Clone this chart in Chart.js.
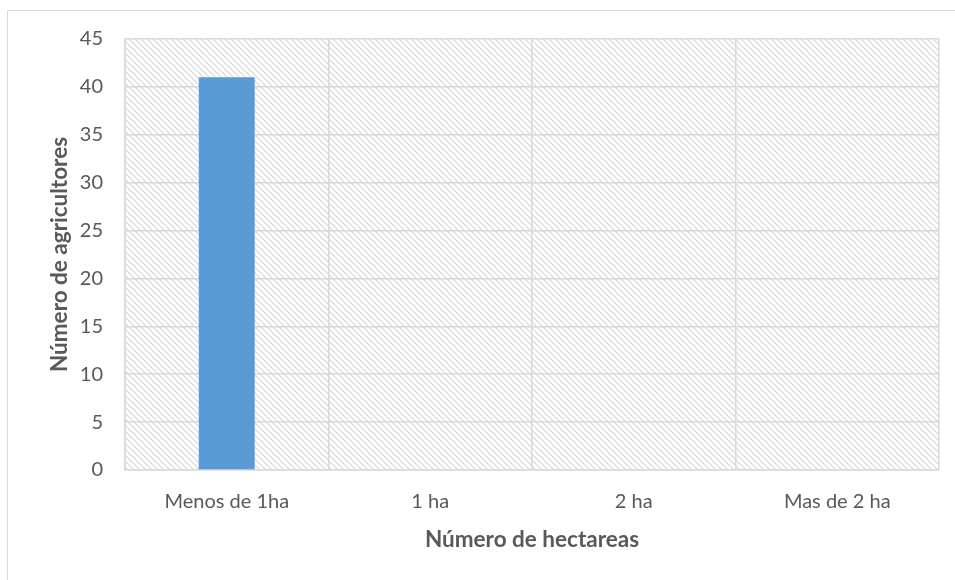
<!DOCTYPE html>
<html>
<head>
<meta charset="utf-8">
<script src="https://cdn.jsdelivr.net/npm/chart.js@4.4.1/dist/chart.umd.min.js"></script>
<style>
  html, body { margin: 0; padding: 0; background: #fff; overflow: hidden; }
  #frame {
    position: absolute; left: 7px; top: 10px;
    width: 1000px; height: 620px;
    border-left: 1.5px solid #d9d9d9; border-top: 1.5px solid #d9d9d9;
  }
  #wrap { position: absolute; left: 0; top: 0; width: 955px; height: 580px; }
</style>
</head>
<body>
<div id="frame"></div>
<div id="wrap"><canvas id="chart"></canvas></div>
<script>
// Farmers by farm size
const categories = ['Menos de 1ha', '1 ha', '2 ha', 'Mas de 2 ha'];
const farmers = [41, 0, 0, 0];
const yTicks = [0, 5, 10, 15, 20, 25, 30, 35, 40, 45];

const textColor = '#595959';
const gridColor = '#d9d9d9';

// diagonal hatch for the plot area
function makeHatch() {
  const c = document.createElement('canvas');
  c.width = 6; c.height = 6;
  const g = c.getContext('2d');
  g.strokeStyle = '#d6d6d6';
  g.lineWidth = 1.2;
  g.beginPath();
  g.moveTo(-1, -1); g.lineTo(7, 7);
  g.moveTo(-7, -1); g.lineTo(1, 7);
  g.moveTo(5, -1); g.lineTo(13, 7);
  g.stroke();
  return g.createPattern(c, 'repeat');
}

const hatchBg = {
  id: 'hatchBg',
  beforeDraw(chart) {
    const { ctx, chartArea: a } = chart;
    ctx.save();
    ctx.fillStyle = makeHatch();
    ctx.fillRect(a.left, a.top, a.right - a.left, a.bottom - a.top);
    ctx.restore();
  }
};

new Chart(document.getElementById('chart'), {
  type: 'bar',
  data: {
    labels: categories,
    datasets: [{
      data: farmers,
      backgroundColor: '#5b9bd5',
      borderWidth: 0,
      barPercentage: 0.275,
      categoryPercentage: 1
    }]
  },
  options: {
    responsive: true,
    maintainAspectRatio: false,
    animation: false,
    layout: { padding: { left: 0, right: 16, top: 39, bottom: 0 } },
    plugins: {
      legend: { display: false },
      tooltip: { enabled: false }
    },
    scales: {
      x: {
        afterFit(scale) { scale.height = 110; },
        grid: { color: gridColor, lineWidth: 1.5, drawTicks: false, offset: true },
        border: { color: gridColor, width: 1.5 },
        ticks: { color: textColor, font: { family: 'Lato', size: 20 }, padding: 20 },
        title: {
          display: true, text: 'Número de hectareas', color: textColor,
          font: { family: 'Lato', size: 22.5, weight: 'bold' }, padding: { bottom: 26.5 }
        }
      },
      y: {
        min: 0, max: 45,
        afterBuildTicks(scale) { scale.ticks = yTicks.map(v => ({ value: v })); },
        afterFit(scale) { scale.width = 125; },
        grid: { color: gridColor, lineWidth: 1.5, drawTicks: false },
        border: { color: gridColor, width: 1.5 },
        ticks: { color: textColor, font: { family: 'Lato', size: 20 }, padding: 22 },
        title: {
          display: true, text: 'Número de agricultores', color: textColor,
          font: { family: 'Lato', size: 22.5, weight: 'bold' }, padding: { top: 46.5 }
        }
      }
    }
  },
  plugins: [hatchBg]
});
</script>
</body>
</html>
